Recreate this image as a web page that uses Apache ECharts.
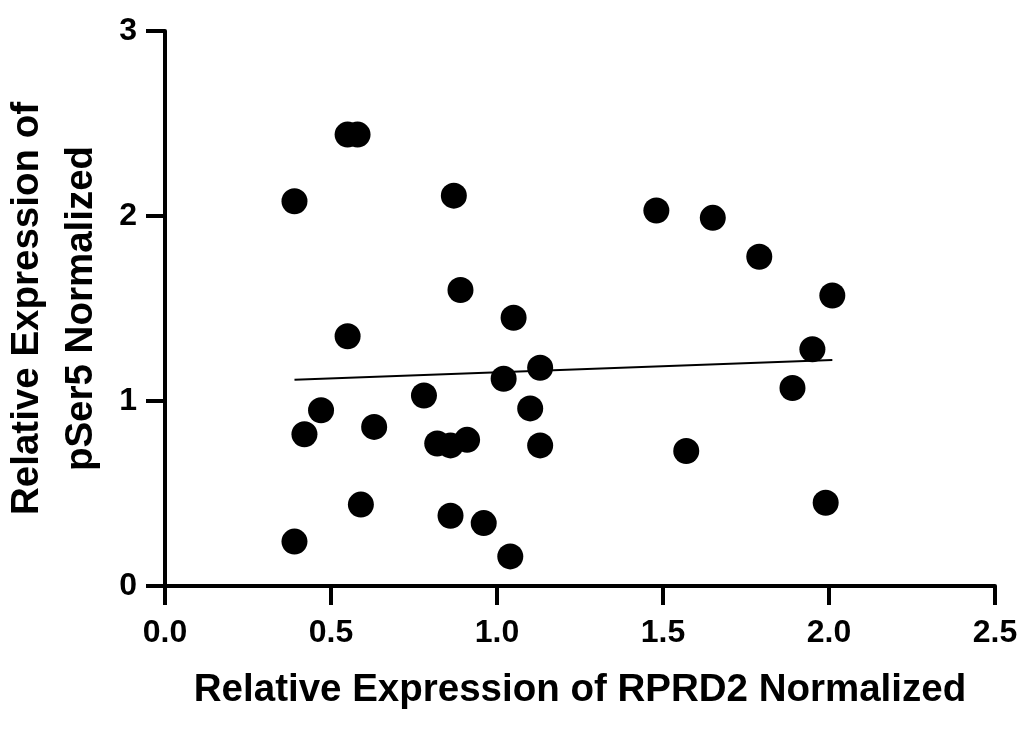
<!DOCTYPE html>
<html><head><meta charset="utf-8">
<script src="https://cdn.jsdelivr.net/npm/echarts@6/dist/echarts.min.js"></script>
<style>html,body{margin:0;padding:0;background:#fff}#c{width:1029px;height:729px}</style>
</head><body><div id="c"></div>
<script>
const xTitle = 'Relative Expression of RPRD2 Normalized';
const yTitle = 'Relative Expression of\npSer5 Normalized';
const xValues = [0.39,0.55,0.58,0.87,0.89,0.55,1.05,1.13,1.02,0.78,0.47,0.42,0.63,0.82,0.86,0.91,1.10,1.13,0.59,0.86,0.96,1.04,0.39,1.48,1.65,1.79,2.01,1.95,1.89,1.57,1.99];
const yValues = [2.08,2.44,2.44,2.11,1.60,1.35,1.45,1.18,1.12,1.03,0.95,0.82,0.86,0.77,0.76,0.79,0.96,0.76,0.44,0.38,0.34,0.16,0.24,2.03,1.99,1.78,1.57,1.28,1.07,0.73,0.45];
const fitX = [0.39, 2.01];
const fitY = [1.115, 1.222];

const pts = xValues.map((x,i)=>[x,yValues[i]]);
const fit = fitX.map((x,i)=>[x,fitY[i]]);
const font = '"Liberation Sans", Arial, sans-serif';
const chart = echarts.init(document.getElementById('c'), null, {renderer:'canvas'});
const axisCommon = {
  axisLine:{show:true,onZero:false,lineStyle:{color:'#000',width:4}},
  axisTick:{show:true,inside:false,length:19,lineStyle:{color:'#000',width:4}},
  splitLine:{show:false},
};
chart.setOption({
  animation:false,
  grid:{left:165,right:34,top:31,bottom:143,containLabel:false,outerBoundsMode:'none'},
  xAxis:Object.assign({type:'value',min:0,max:2.5,interval:0.5,
    name:xTitle,nameLocation:'middle',nameGap:85,
    nameTextStyle:{fontFamily:font,fontWeight:'bold',fontSize:38.5,color:'#000'},
    axisLabel:{fontFamily:font,fontWeight:'bold',fontSize:32,color:'#000',margin:31,
      formatter:v=>v.toFixed(1)}},axisCommon),
  yAxis:Object.assign({type:'value',min:0,max:3,interval:1,
    name:yTitle,nameLocation:'middle',nameGap:56,
    nameTextStyle:{fontFamily:font,fontWeight:'bold',fontSize:38.5,color:'#000',lineHeight:54},
    axisLabel:{fontFamily:font,fontWeight:'bold',fontSize:32,color:'#000',margin:28}},axisCommon),
  series:[
    {type:'line',data:fit,symbol:'none',lineStyle:{color:'#000',width:2},z:3},
    {type:'scatter',data:pts,symbol:'circle',symbolSize:26,itemStyle:{color:'#000',opacity:1},z:4}
  ]
});
</script></body></html>
